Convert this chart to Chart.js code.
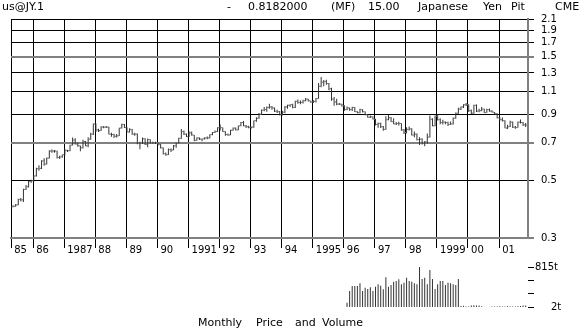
<!DOCTYPE html>
<html>
<head>
<meta charset="utf-8">
<script src="https://cdn.jsdelivr.net/npm/chart.js@4.4.1/dist/chart.umd.min.js"></script>
<style>
  body { margin: 0; background: #fff; }
  #wrap { position: relative; width: 585px; height: 329px; overflow: hidden; background: #fff;
          font-family: "DejaVu Sans", Verdana, sans-serif; font-size: 11px; color: #000; }
  #wrap canvas { position: absolute; left: 0; top: 0; }
  .t { position: absolute; white-space: pre; line-height: 13px; }
</style>
</head>
<body>
<div id="wrap">
  <canvas id="priceChart" width="585" height="329"></canvas>
  <canvas id="volChart" width="585" height="329"></canvas>

  <span class="t" style="left:2px;top:0px">us@JY.1</span>
  <span class="t" style="left:227px;top:0px">-</span>
  <span class="t" style="left:248px;top:0px">0.8182000</span>
  <span class="t" style="left:331px;top:0px">(MF)</span>
  <span class="t" style="left:368px;top:0px">15.00</span>
  <span class="t" style="left:418px;top:0px">Japanese</span>
  <span class="t" style="left:483px;top:0px">Yen</span>
  <span class="t" style="left:511px;top:0px">Pit</span>
  <span class="t" style="left:555px;top:0px">CME</span>

  <span class="t" style="left:198px;top:316px">Monthly</span>
  <span class="t" style="left:256px;top:316px">Price</span>
  <span class="t" style="left:295px;top:316px">and</span>
  <span class="t" style="left:322px;top:316px">Volume</span>
</div>
<script>
const yearLabels = ['85', '86', '1987', '88', '89', '90', '1991', '92', '93', '94',
                    '1995', '96', '97', '98', '1999', '00', '01'];
const priceTicks = [0.3, 0.5, 0.7, 0.9, 1.1, 1.3, 1.5, 1.7, 1.9, 2.1];
const heavyLines = [0.3, 0.7, 1.5];
const volumeTicks = [2, 273, 544, 815];

// monthly bars, May 1985 .. Nov 2001
const opens = [
  .3960, .3976, .4024, .4228, .4211, .4619, .4728, .4950,
  .4988, .5208, .5556, .5571, .5952, .5780, .6098, .6494, .6494, .6494, .6135, .6173,
  .6289, .6536, .6515, .6849, .7168, .6920, .6803, .6689, .7067, .6803, .7220, .7547,
  .8264, .7843, .7782, .8032, .8032, .8032, .7547, .7519, .7407, .7435, .7968, .8230,
  .8000, .7692, .7874, .7547, .7547, .6944, .6944, .7246, .6897, .7194, .6993, .6969,
  .6969, .6897, .6689, .6349, .6289, .6579, .6557, .6803, .6969, .7273, .7722, .7547,
  .7380, .7634, .7491, .7143, .7299, .7220, .7246, .7299, .7299, .7519, .7663, .7722,
  .8000, .8000, .7722, .7519, .7491, .7813, .7968, .7843, .8130, .8368, .8130, .8065,
  .8000, .8032, .8511, .8696, .9009, .9346, .9390, .9569, .9615, .9524, .9259, .9217,
  .8969, .9174, .9615, .9756, .9804, .9569, 1.0101, 1.0000, 1.0000, 1.0152, 1.0309, 1.0152,
  1.0050, 1.0101, 1.0363, 1.1561, 1.1976, 1.2048, 1.1834, 1.1299, 1.0309, 1.0050, .9852, .9852,
  .9709, .9390, .9524, .9390, .9569, .9217, .9132, .9390, .9217, .8969, .8772, .8811,
  .8621, .8230, .8299, .8065, .7874, .8584, .8734, .8439, .8264, .8299, .8299, .7843,
  .7663, .7874, .7905, .7491, .7547, .7194, .7220, .6944, .7042, .7353, .8621, .8130,
  .8850, .8584, .8368, .8403, .8368, .8230, .8264, .8696, .9091, .9434, .9615, .9804,
  .9804, .9302, .9091, .9756, .9259, .9302, .9434, .9132, .9390, .9259, .9174, .9050,
  .8734, .8584, .8511, .7968, .8065, .8403, .8032, .8000, .8403, .8368, .8197
];
const highs = [
  .4010, .4060, .4250, .4280, .4650, .4800, .4990, .5030,
  .5230, .5600, .5720, .5990, .6100, .6130, .6540, .6590, .6560, .6520, .6230, .6300,
  .6620, .6570, .6870, .7320, .7280, .7010, .6830, .7180, .7100, .7350, .7640, .8300,
  .8300, .7920, .8100, .8120, .8110, .8060, .7640, .7580, .7560, .7990, .8280, .8260,
  .8020, .7960, .7900, .7650, .7600, .7050, .7320, .7280, .7260, .7210, .7060, .7050,
  .7010, .6920, .6700, .6420, .6640, .6640, .6860, .7010, .7310, .7900, .7800, .7600,
  .7740, .7720, .7500, .7350, .7320, .7270, .7340, .7400, .7540, .7700, .7800, .8020,
  .8220, .8010, .7740, .7600, .7850, .8000, .8000, .8150, .8410, .8480, .8180, .8130,
  .8080, .8520, .8780, .9100, .9400, .9600, .9650, .9900, .9700, .9560, .9380, .9270,
  .9300, .9700, .9800, .9850, .9900, 1.0150, 1.0280, 1.0180, 1.0250, 1.0400, 1.0330, 1.0160,
  1.0200, 1.0400, 1.1900, 1.2540, 1.2200, 1.2250, 1.1900, 1.1400, 1.0500, 1.0350, .9950, .9900,
  .9750, .9660, .9570, .9620, .9600, .9260, .9450, .9420, .9230, .9000, .8900, .8830,
  .8650, .8370, .8350, .8120, .8850, .8950, .8800, .8700, .8400, .8420, .8320, .7900,
  .8030, .8080, .7950, .7730, .7600, .7350, .7280, .7100, .7600, .8900, .8700, .8900,
  .9000, .8700, .8580, .8450, .8420, .8450, .8750, .9150, .9550, .9650, .9850, .9950,
  .9850, .9400, .9800, .9820, .9450, .9600, .9460, .9450, .9480, .9330, .9200, .9080,
  .8800, .8750, .8550, .8200, .8500, .8450, .8120, .8450, .8600, .8400, .8330
];
const lows = [
  .3940, .3960, .4010, .4150, .4130, .4600, .4700, .4900,
  .4960, .5180, .5450, .5540, .5700, .5760, .6080, .6400, .6400, .6080, .6050, .6120,
  .6260, .6440, .6480, .6820, .6880, .6750, .6480, .6650, .6780, .6720, .7180, .7500,
  .7700, .7690, .7760, .7960, .7980, .7520, .7380, .7290, .7330, .7420, .7940, .7970,
  .7660, .7660, .7510, .7450, .6900, .6600, .6920, .6850, .6720, .6930, .6930, .6920,
  .6820, .6650, .6300, .6230, .6270, .6440, .6540, .6690, .6950, .7250, .7500, .7360,
  .7360, .7440, .7080, .7120, .7160, .7080, .7200, .7220, .7270, .7480, .7620, .7700,
  .7800, .7690, .7450, .7440, .7470, .7780, .7800, .7820, .8100, .8100, .7980, .7960,
  .7930, .7990, .8420, .8650, .8950, .9250, .9220, .9470, .9380, .9200, .9110, .8900,
  .8900, .9080, .9450, .9600, .9500, .9520, .9900, .9850, .9920, 1.0120, 1.0080, .9970,
  .9950, 1.0000, 1.0330, 1.1450, 1.1550, 1.1700, 1.1150, 1.0150, .9720, .9750, .9780, .9650,
  .9300, .9330, .9300, .9280, .9190, .9080, .9080, .9150, .8930, .8740, .8720, .8600,
  .8150, .7990, .7980, .7780, .7850, .8550, .8400, .8250, .8180, .8150, .7780, .7560,
  .7600, .7800, .7460, .7350, .7140, .6850, .6880, .6780, .6930, .7320, .8090, .8100,
  .8520, .8250, .8230, .8240, .8120, .8200, .8220, .8650, .9050, .9350, .9520, .9700,
  .9200, .9030, .9050, .9200, .9180, .9250, .9100, .9120, .9220, .9140, .9000, .8680,
  .8500, .8450, .7950, .7900, .8050, .7980, .7920, .7990, .8300, .8120, .8050
];
const closes = [
  .3976, .4024, .4228, .4211, .4619, .4728, .4950, .4988,
  .5208, .5556, .5571, .5952, .5780, .6098, .6494, .6494, .6494, .6135, .6173, .6289,
  .6536, .6515, .6849, .7168, .6920, .6803, .6689, .7067, .6803, .7220, .7547, .8264,
  .7843, .7782, .8032, .8032, .8032, .7547, .7519, .7407, .7435, .7968, .8230, .8000,
  .7692, .7874, .7547, .7547, .6944, .6944, .7246, .6897, .7194, .6993, .6969, .6969,
  .6897, .6689, .6349, .6289, .6579, .6557, .6803, .6969, .7273, .7722, .7547, .7380,
  .7634, .7491, .7143, .7299, .7220, .7246, .7299, .7299, .7519, .7663, .7722, .8000,
  .8000, .7722, .7519, .7491, .7813, .7968, .7843, .8130, .8368, .8130, .8065, .8000,
  .8032, .8511, .8696, .9009, .9346, .9390, .9569, .9615, .9524, .9259, .9217, .8969,
  .9174, .9615, .9756, .9804, .9569, 1.0101, 1.0000, 1.0000, 1.0152, 1.0309, 1.0152, 1.0050,
  1.0101, 1.0363, 1.1561, 1.1976, 1.2048, 1.1834, 1.1299, 1.0309, 1.0050, .9852, .9852, .9709,
  .9390, .9524, .9390, .9569, .9217, .9132, .9390, .9217, .8969, .8772, .8811, .8621,
  .8230, .8299, .8065, .7874, .8584, .8734, .8439, .8264, .8299, .8299, .7843, .7663,
  .7874, .7905, .7491, .7547, .7194, .7220, .6944, .7042, .7353, .8621, .8130, .8850,
  .8584, .8368, .8403, .8368, .8230, .8264, .8696, .9091, .9434, .9615, .9804, .9804,
  .9302, .9091, .9756, .9259, .9302, .9434, .9132, .9390, .9259, .9174, .9050, .8734,
  .8584, .8511, .7968, .8065, .8403, .8032, .8000, .8403, .8368, .8197, .8182
];

// pit volume in thousands of contracts, Feb 1996 .. Nov 2001
const volumes = [
  89, 327, 429, 429, 429, 484, 327, 394, 368, 402, 327,
  415, 463, 435, 362, 606, 415, 449, 516, 530, 565, 463, 496,
  598, 530, 516, 484, 463, 815, 571, 598, 463, 754, 571, 368,
  463, 530, 530, 449, 496, 484, 463, 449, 571, 20, 25, 10,
  10, 30, 40, 35, 30, 15, 0, 0, 0, 10, 12, 12,
  15, 12, 12, 15, 12, 12, 12, 15, 20, 35, 30
];

const priceStart = 4;      // months after Jan 1985
const volumeStart = 133;
const xMin = 3.5, xMax = 203.2;
const barOffset = 0.3;
const tickShift = 0.4;
const ink = '#333';
const axisFont = { family: 'DejaVu Sans', size: 10 };

function barX(start, i) { return start + i + barOffset; }

const yearTicks = yearLabels.map((label, i) => i === 0 ? xMin : i * 12);

const rangeData = highs.map((h, i) => ({ x: barX(priceStart, i), y: [lows[i], h] }));
const openData = opens.map((v, i) => ({ x: barX(priceStart, i) - tickShift, y: v }));
const closeData = closes.map((v, i) => ({ x: barX(priceStart, i) + tickShift, y: v }));
const volumeData = volumes.map((v, i) => ({ x: barX(volumeStart, i), y: v }));

const quiet = { legend: { display: false }, tooltip: { enabled: false } };
const thinBar = { backgroundColor: ink, barThickness: 1, grouped: false, borderWidth: 0, inflateAmount: 0 };

new Chart(document.getElementById('priceChart'), {
  type: 'bar',
  data: {
    datasets: [
      { ...thinBar, data: rangeData },
      { type: 'line', data: openData, showLine: false, pointStyle: 'line',
        pointRadius: 0.5, pointBorderWidth: 1, pointBorderColor: '#777' },
      { type: 'line', data: closeData, showLine: false, pointStyle: 'line',
        pointRadius: 0.5, pointBorderWidth: 1, pointBorderColor: '#777' }
    ]
  },
  options: {
    responsive: false,
    animation: false,
    events: [],
    layout: { padding: { left: 11, top: 19 } },
    plugins: quiet,
    scales: {
      x: {
        type: 'linear', min: xMin, max: xMax, offset: false,
        afterFit: s => { s.height = 91; },
        afterBuildTicks: s => { s.ticks = yearTicks.map(v => ({ value: v })); },
        grid: { offset: false, color: '#000', lineWidth: 1, tickLength: 10 },
        border: { color: '#808080', width: 2 },
        ticks: {
          align: 'start', autoSkip: false, maxRotation: 0, padding: -4,
          color: '#000', font: axisFont,
          callback: (v, i) => ' ' + yearLabels[i]
        }
      },
      y: {
        type: 'logarithmic', position: 'right', min: 0.3, max: 2.1, beginAtZero: false,
        afterFit: s => { s.width = 57; },
        afterBuildTicks: s => { s.ticks = priceTicks.map(v => ({ value: v })); },
        grid: {
          color: c => heavyLines.includes(c.tick.value) ? '#808080' : '#000',
          lineWidth: c => heavyLines.includes(c.tick.value) ? 2 : 1,
          tickLength: 6
        },
        border: { color: '#808080', width: 2 },
        ticks: { autoSkip: false, padding: 7, color: '#000', font: axisFont, callback: v => v.toFixed(1) }
      }
    }
  }
});

new Chart(document.getElementById('volChart'), {
  type: 'bar',
  data: { datasets: [{ ...thinBar, data: volumeData }] },
  options: {
    responsive: false,
    animation: false,
    events: [],
    layout: { padding: { left: 11, top: 267, bottom: 22 } },
    plugins: quiet,
    scales: {
      x: { type: 'linear', min: xMin, max: xMax, offset: false, display: false },
      y: {
        position: 'right', min: 2, max: 815,
        afterFit: s => { s.width = 57; },
        afterBuildTicks: s => { s.ticks = volumeTicks.map(v => ({ value: v })); },
        grid: { drawOnChartArea: false, color: '#000', tickLength: 6 },
        border: { display: false },
        ticks: {
          autoSkip: false, padding: 1, color: '#000', font: axisFont,
          callback: v => v === 815 ? '815t' : (v === 2 ? '     2t' : '')
        }
      }
    }
  }
});
</script>
</body>
</html>
